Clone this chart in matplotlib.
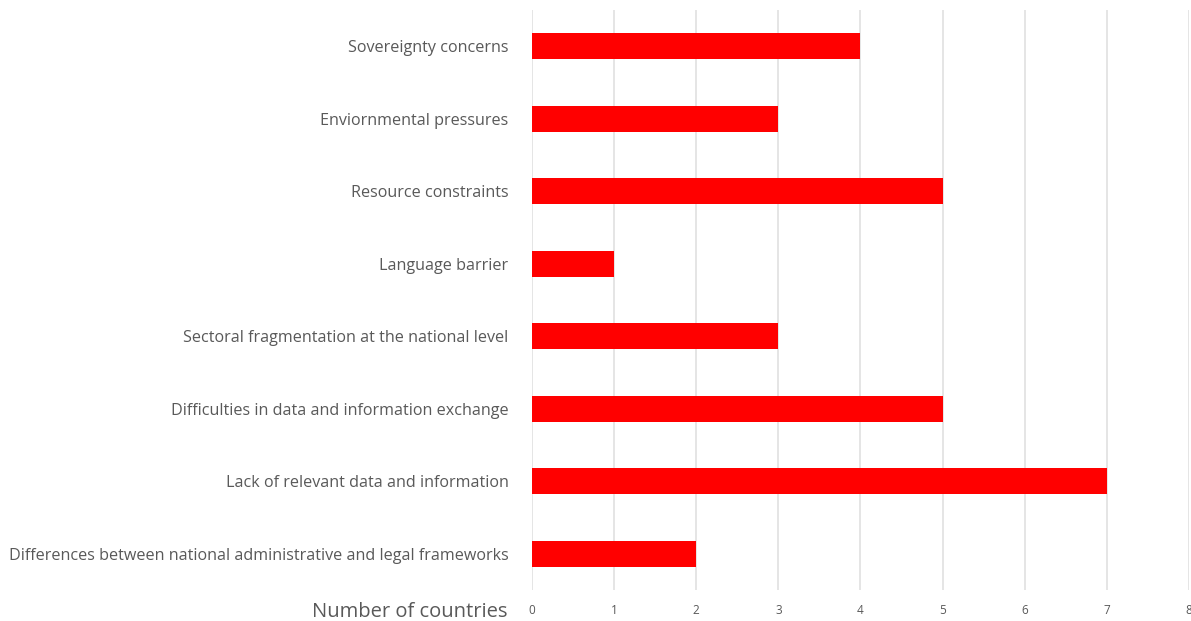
import matplotlib.pyplot as plt

# Challenges reported, top to bottom
challenges = [
    "Sovereignty concerns",
    "Enviornmental pressures",
    "Resource constraints",
    "Language barrier",
    "Sectoral fragmentation at the national level",
    "Difficulties in data and information exchange",
    "Lack of relevant data and information",
    "Differences between national administrative and legal frameworks",
]
countries = [4, 3, 5, 1, 3, 5, 7, 2]
x_ticks = [0, 1, 2, 3, 4, 5, 6, 7, 8]

plt.rcParams['font.family'] = ['Open Sans', 'DejaVu Sans']

fig = plt.figure(figsize=(11.91, 6.21), dpi=100)
ax = fig.add_axes([532 / 1191, 31 / 621, 657 / 1191, 580 / 621])

y = list(range(len(challenges)))
ax.barh(y, countries, height=0.36, color='#ff0000', zorder=3)

ax.set_xlim(0, 8)
ax.set_ylim(len(challenges) - 0.5, -0.5)
ax.set_xticks(x_ticks)
ax.set_xticklabels([str(t) for t in x_ticks], fontsize=8.5, color='#595959')
ax.set_yticks(y)
ax.set_yticklabels(challenges, fontsize=11.6, color='#595959')
ax.tick_params(axis='both', length=0)
ax.tick_params(axis='y', pad=17)
ax.tick_params(axis='x', pad=10)

ax.grid(axis='x', color='#dedede', linewidth=1.1, zorder=0)
for s in ax.spines.values():
    s.set_visible(False)

fig.text(508 / 1191, 1 - 612 / 621, "Number of countries", ha='right', va='center',
         fontsize=14.5, color='#595959')

fig.savefig('out.png', dpi=100)
